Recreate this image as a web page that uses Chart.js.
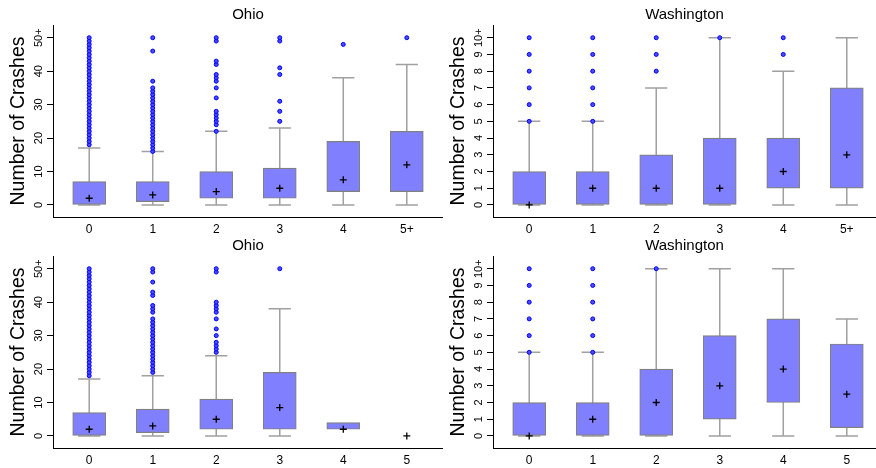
<!DOCTYPE html>
<html>
<head>
<meta charset="utf-8">
<script src="https://cdn.jsdelivr.net/npm/chart.js@4"></script>
<style>
  body { margin: 0; background: #fff; width: 876px; height: 468px; overflow: hidden; position: relative; }
  canvas { position: absolute; }
</style>
</head>
<body>
<canvas id="ohioTop" width="443" height="234" style="left:0;top:0"></canvas>
<canvas id="waTop" width="436" height="234" style="left:440px;top:0"></canvas>
<canvas id="ohioBottom" width="443" height="234" style="left:0;top:231px"></canvas>
<canvas id="waBottom" width="436" height="234" style="left:440px;top:231px"></canvas>
<script>
// categories
const topLabels = ["0", "1", "2", "3", "4", "5+"];
const bottomLabels = ["0", "1", "2", "3", "4", "5"];

// y ticks
const ohioTicks = [0, 10, 20, 30, 40, 50];
const ohioTickLabels = ["0", "10", "20", "30", "40", "50+"];
const waTicks = [0, 1, 2, 3, 4, 5, 6, 7, 8, 9, 10];
const waTickLabels = ["0", "1", "2", "3", "4", "5", "6", "7", "8", "9", "10+"];

// Ohio, top
const ohioTopQ1 = [0, 1, 2, 2, 4, 4];
const ohioTopQ3 = [7, 7, 10, 11, 19, 22];
const ohioTopMean = [2, 3, 4, 5, 7.5, 12];
const ohioTopLo = [0, 0, 0, 0, 0, 0];
const ohioTopHi = [17, 16, 22, 23, 38, 42];
const ohioTopOut = [
  [18, 19, 20, 21, 22, 23, 24, 25, 26, 27, 28, 29, 30, 31, 32, 33, 34, 35, 36, 37, 38, 39, 40, 41, 42, 43, 44, 45, 46, 47, 48, 49, 50],
  [16, 17, 18, 19, 20, 21, 22, 23, 24, 25, 26, 27, 28, 29, 30, 31, 32, 33, 34, 35, 37, 46, 50],
  [22, 24, 25, 26, 27, 28, 32, 35, 37, 38, 39, 42, 43, 49, 50],
  [25, 28, 31, 39, 41, 49, 50],
  [48],
  [50]
];

// Washington, top
const waTopQ1 = [0, 0, 0, 0, 1, 1];
const waTopQ3 = [2, 2, 3, 4, 4, 7];
const waTopMean = [0, 1, 1, 1, 2, 3];
const waTopLo = [0, 0, 0, 0, 0, 0];
const waTopHi = [5, 5, 7, 10, 8, 10];
const waTopOut = [
  [5, 6, 7, 8, 9, 10],
  [5, 6, 7, 8, 9, 10],
  [8, 9, 10],
  [10],
  [9, 10],
  []
];

// Ohio, bottom
const ohioBotQ1 = [0, 1, 2, 2, 2, null];
const ohioBotQ3 = [7, 8, 11, 19, 4, null];
const ohioBotMean = [2, 3, 5, 8.5, 2, 0];
const ohioBotLo = [0, 0, 0, 0, null, null];
const ohioBotHi = [17, 18, 24, 38, null, null];
const ohioBotOut = [
  [18, 19, 20, 21, 22, 23, 24, 25, 26, 27, 28, 29, 30, 31, 32, 33, 34, 35, 36, 37, 38, 39, 40, 41, 42, 43, 44, 45, 46, 47, 48, 49, 50],
  [19, 20, 21, 22, 23, 24, 25, 26, 27, 28, 29, 30, 31, 32, 33, 34, 35, 37, 38, 39, 42, 43, 46, 49, 50],
  [25, 26, 27, 28, 30, 32, 35, 37, 38, 39, 40, 49, 50],
  [50],
  [],
  []
];

// Washington, bottom
const waBotQ1 = [0, 0, 0, 1, 2, 0.5];
const waBotQ3 = [2, 2, 4, 6, 7, 5.5];
const waBotMean = [0, 1, 2, 3, 4, 2.5];
const waBotLo = [0, 0, 0, 0, 0, 0];
const waBotHi = [5, 5, 10, 10, 10, 7];
const waBotOut = [
  [5, 6, 7, 8, 9, 10],
  [5, 6, 7, 8, 9, 10],
  [10],
  [],
  [],
  []
];

Chart.defaults.font.family = "'Liberation Sans', Arial, sans-serif";
Chart.defaults.color = "#000";

const whiskerPlugin = {
  id: "whiskers",
  beforeDatasetsDraw(chart, args, opts) {
    const ctx = chart.ctx;
    const x = chart.scales.x;
    const y = chart.scales.y;
    ctx.save();
    ctx.strokeStyle = "#a0a0a0";
    ctx.lineWidth = 1.5;
    opts.lo.forEach((lo, i) => {
      const hi = opts.hi[i];
      if (lo == null || hi == null) return;
      const px = x.getPixelForValue(i);
      const half = x.getPixelForValue(i + 0.175) - px;
      const yLo = y.getPixelForValue(lo);
      const yHi = y.getPixelForValue(hi);
      ctx.beginPath();
      ctx.moveTo(px, yLo);
      ctx.lineTo(px, yHi);
      ctx.moveTo(px - half, yLo);
      ctx.lineTo(px + half, yLo);
      ctx.moveTo(px - half, yHi);
      ctx.lineTo(px + half, yHi);
      ctx.stroke();
    });
    ctx.restore();
  }
};

function makeChart(id, title, labels, q1, q3, mean, lo, hi, outliers, yTicks, yTickLabels, yMin, yMax, xMax) {

  const boxes = [];
  q1.forEach((v, i) => {
    if (v != null) boxes.push({ x: i, y: [v, q3[i]] });
  });

  const means = [];
  mean.forEach((v, i) => {
    if (v != null) means.push({ x: i, y: v });
  });

  const outs = [];
  outliers.forEach((list, i) => {
    list.forEach(v => outs.push({ x: i, y: v }));
  });

  new Chart(document.getElementById(id), {
    type: "bar",
    data: {
      datasets: [
        {
          type: "scatter",
          data: means,
          pointStyle: "cross",
          radius: 3.5,
          borderColor: "#000",
          borderWidth: 1.3
        },
        {
          type: "scatter",
          data: outs,
          pointStyle: "circle",
          radius: 2,
          backgroundColor: "#4a4aff",
          borderColor: "#0000ff",
          borderWidth: 1
        },
        {
          type: "bar",
          data: boxes,
          backgroundColor: "#8080ff",
          borderColor: "#808080",
          borderWidth: 1.2,
          borderSkipped: false,
          barThickness: 33
        }
      ]
    },
    options: {
      responsive: false,
      animation: false,
      layout: { padding: 0, autoPadding: false },
      plugins: {
        legend: { display: false },
        tooltip: { enabled: false },
        title: {
          display: true,
          text: title,
          fullSize: false,
          color: "#000",
          font: { size: 15, weight: "normal" },
          padding: { top: 6, bottom: 1 }
        },
        whiskers: { lo, hi }
      },
      scales: {
        x: {
          type: "linear",
          offset: false,
          min: -0.57,
          max: xMax,
          afterBuildTicks: s => { s.ticks = labels.map((l, i) => ({ value: i })); },
          afterFit: s => { s.height = 17; },
          ticks: {
            callback: (v, i) => labels[i],
            autoSkip: false,
            font: { size: 12 },
            color: "#000",
            padding: 5,
            maxRotation: 0
          },
          grid: { display: false, drawTicks: false },
          border: { display: true, color: "#000", width: 1 }
        },
        y: {
          min: yMin,
          max: yMax,
          afterBuildTicks: s => { s.ticks = yTicks.map(v => ({ value: v })); },
          afterFit: s => { s.width = 53; },
          ticks: {
            callback: (v, i) => yTickLabels[i],
            autoSkip: false,
            minRotation: 90,
            maxRotation: 90,
            crossAlign: "center",
            font: { size: 11 },
            color: "#000",
            padding: -1
          },
          grid: { display: true, drawOnChartArea: false, drawTicks: true, tickLength: 6, color: "#000" },
          border: { display: true, color: "#000", width: 1 },
          title: {
            display: true,
            text: "Number of Crashes",
            color: "#000",
            font: { size: 19.5 },
            padding: { top: 7, bottom: 0 }
          }
        }
      }
    },
    plugins: [whiskerPlugin]
  });
}

makeChart("ohioTop", "Ohio", topLabels, ohioTopQ1, ohioTopQ3, ohioTopMean, ohioTopLo, ohioTopHi, ohioTopOut,
  ohioTicks, ohioTickLabels, -3.6, 53.8, 5.57);
makeChart("waTop", "Washington", topLabels, waTopQ1, waTopQ3, waTopMean, waTopLo, waTopHi, waTopOut,
  waTicks, waTickLabels, -0.72, 10.76, 5.46);
makeChart("ohioBottom", "Ohio", bottomLabels, ohioBotQ1, ohioBotQ3, ohioBotMean, ohioBotLo, ohioBotHi, ohioBotOut,
  ohioTicks, ohioTickLabels, -3.6, 53.8, 5.57);
makeChart("waBottom", "Washington", bottomLabels, waBotQ1, waBotQ3, waBotMean, waBotLo, waBotHi, waBotOut,
  waTicks, waTickLabels, -0.72, 10.76, 5.46);
</script>
</body>
</html>
